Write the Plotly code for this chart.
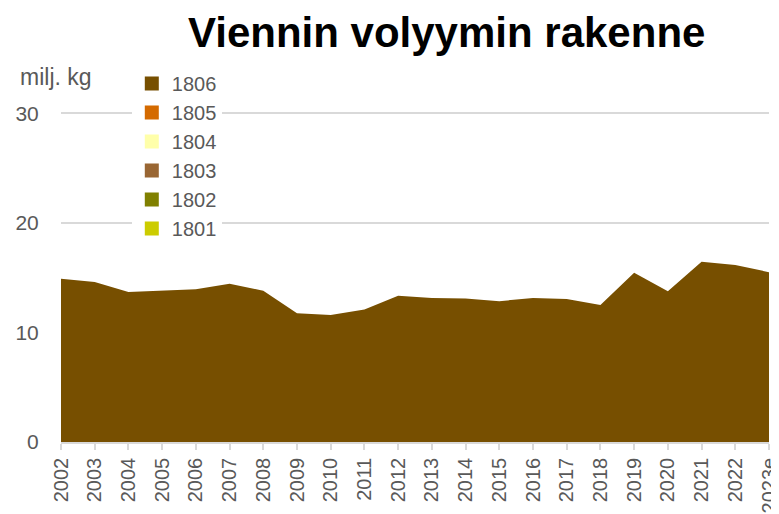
import plotly.graph_objects as go

years = ["2002","2003","2004","2005","2006","2007","2008","2009","2010","2011","2012",
         "2013","2014","2015","2016","2017","2018","2019","2020","2021","2022","2023e"]
s1806 = [14.9,14.6,13.7,13.8,13.95,14.45,13.8,11.75,11.6,12.1,13.35,
         13.15,13.1,12.85,13.15,13.05,12.5,15.45,13.75,16.45,16.15,15.5]
s1805 = [0]*22
s1804 = [0]*22
s1803 = [0]*22
s1802 = [0]*22
s1801 = [0]*22

series = [("1801", s1801, "#CCCC00"), ("1802", s1802, "#808000"), ("1803", s1803, "#996633"),
          ("1804", s1804, "#FFFFAA"), ("1805", s1805, "#D46A00"), ("1806", s1806, "#774F00")]

fig = go.Figure()
for name, vals, col in series:
    fig.add_trace(go.Scatter(x=years, y=vals, name=name, stackgroup="one", mode="lines",
                             line=dict(width=0, color=col), fillcolor=col, showlegend=False))
for name, vals, col in series:
    fig.add_trace(go.Scatter(x=[None], y=[None], name=name, mode="markers",
                             marker=dict(symbol="square", size=14, color=col)))

fontfam = "Liberation Sans, Arial, sans-serif"
# page body has an 8px margin, so the figure is 8px smaller than the window
fig.update_layout(
    width=771, height=506,
    margin=dict(l=53, r=10, t=102, b=72),
    paper_bgcolor="white", plot_bgcolor="white",
    font=dict(family=fontfam, color="#595959"),
    title=dict(text="<b>Viennin volyymin rakenne</b>", x=0.569, xanchor="center", y=0.951, yanchor="middle",
               font=dict(size=42, color="black", family=fontfam)),
    legend=dict(x=0.100, y=1.1386, xanchor="left", yanchor="top", traceorder="reversed",
                bgcolor="white", font=dict(size=20, color="#595959"), tracegroupgap=0),
    showlegend=True,
)
fig.add_annotation(text="milj. kg", xref="paper", yref="paper", x=-0.0607, y=1.0994,
                   xanchor="left", yanchor="middle", showarrow=False,
                   font=dict(size=23, color="#595959"))
fig.update_xaxes(type="category", range=[0, 21], tickangle=-90, tickfont=dict(size=20, color="#595959"),
                 showgrid=False, showline=True, linecolor="#d9d9d9", linewidth=1.5,
                 ticks="outside", ticklen=6, tickcolor="#d9d9d9", tickwidth=1.5, automargin=False)
fig.update_yaxes(range=[0, 30.3], tickvals=[0, 10, 20, 30], tickfont=dict(size=21, color="#595959"),
                 showgrid=True, gridcolor="#d9d9d9", gridwidth=1.5, zeroline=False,
                 ticks="outside", ticklen=17, tickcolor="white", automargin=False)
fig.write_html("out.html")
